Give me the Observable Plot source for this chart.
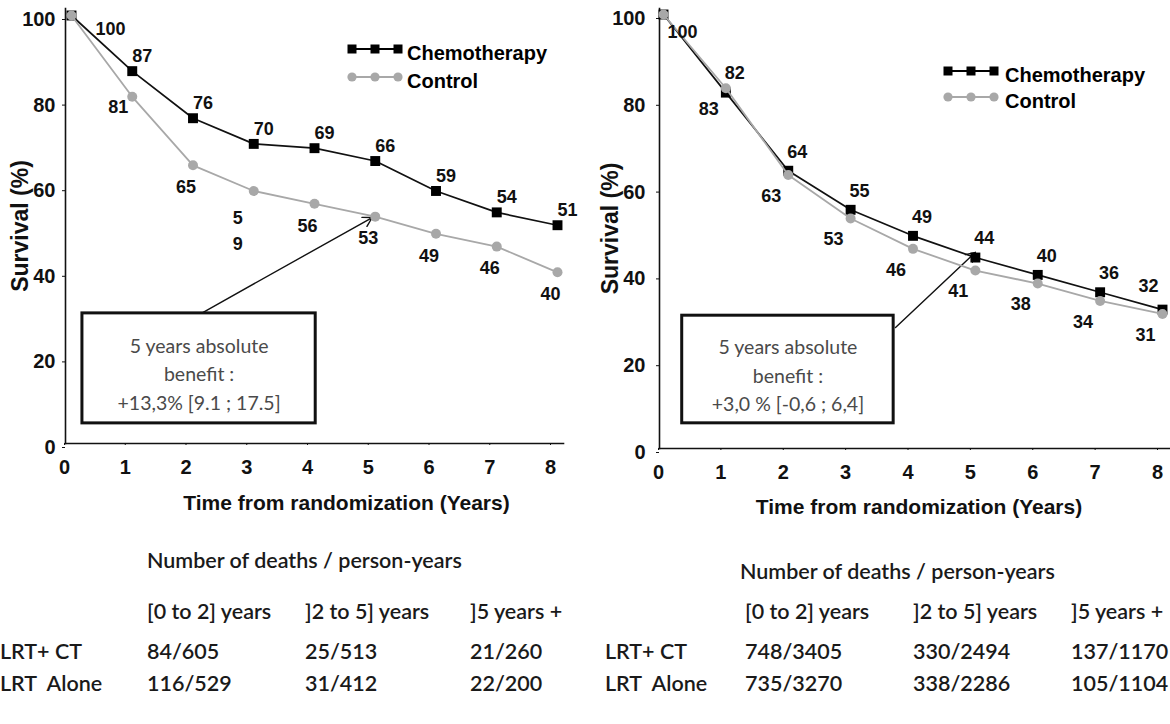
<!DOCTYPE html>
<html><head><meta charset="utf-8">
<script src="https://cdn.jsdelivr.net/npm/d3@7"></script>
<script src="https://cdn.jsdelivr.net/npm/@observablehq/plot@0.6"></script>
<style>
body{margin:0;background:#fff;}
#wrap{position:relative;width:1170px;height:724px;overflow:hidden;background:#fff;}
.panel{position:absolute;top:0;width:585px;height:530px;}
.lg{position:absolute;display:flex;align-items:center;height:20px;font:bold 20px "Liberation Sans",Arial,sans-serif;color:#000;white-space:nowrap;}
.lg span{position:relative;top:4px;}
.tb{position:absolute;font-family:Lato,sans-serif;font-size:21.5px;font-weight:600;color:#1a1a1a;white-space:pre;transform:translateY(-50%);line-height:1;}
</style></head><body><div id="wrap"></div>
<script>
// ---- data ----
const years = [0, 1, 2, 3, 4, 5, 6, 7, 8];
const yTicks = [0, 20, 40, 60, 80, 100];
const seriesNames = ["Chemotherapy", "Control"];

const leftChemo = [100, 87, 76, 70, 69, 66, 59, 54, 51];
const leftControl = [100, 81, 65, 59, 56, 53, 49, 46, 40];
const leftChemoLabels = ["100", "87", "76", "70", "69", "66", "59", "54", "51"];
const leftControlLabels = ["", "81", "65", "5\n9", "56", "53", "49", "46", "40"];
const leftBoxText = "5 years absolute\nbenefit :\n+13,3% [9.1 ; 17.5]";

const rightChemo = [100, 82, 64, 55, 49, 44, 40, 36, 32];
const rightControl = [100, 83, 63, 53, 46, 41, 38, 34, 31];
const rightChemoLabels = ["100", "82", "64", "55", "49", "44", "40", "36", "32"];
const rightControlLabels = ["", "83", "63", "53", "46", "41", "38", "34", "31"];
const rightBoxText = "5 years absolute\nbenefit :\n+3,0 % [-0,6 ; 6,4]";

const xTitle = "Time from randomization (Years)";
const yTitle = "Survival (%)";

const tableTitle = "Number of deaths / person-years";
const periods = ["[0 to 2] years", "]2 to 5] years", "]5 years +"];
const arms = ["LRT+ CT", "LRT  Alone"];
const leftDeaths = [["84/605", "25/513", "21/260"], ["116/529", "31/412", "22/200"]];
const rightDeaths = [["748/3405", "330/2494", "137/1170"], ["735/3270", "338/2286", "105/1104"]];

// ---- drawing ----
const FONT = '"Liberation Sans", Arial, sans-serif';
const GREY = "#a8a8a8";

function makePanel(cfg) {
  const chemo = years.map((t, i) => ({t, v: cfg.chemo[i], label: cfg.chemoLabels[i], i}));
  const ctrl = years.map((t, i) => ({t, v: cfg.control[i], label: cfg.controlLabels[i], i}));
  const sp = cfg.special;
  const labelMarks = [];
  labelMarks.push(Plot.text(chemo.filter(d => !(d.i in sp.chemo)), {x: "t", y: "v", text: "label", dx: cfg.chemoOff[0], dy: cfg.chemoOff[1], fontSize: 18}));
  for (const k in sp.chemo) labelMarks.push(Plot.text(chemo.filter(d => d.i == k), {x: "t", y: "v", text: "label", dx: sp.chemo[k][0], dy: sp.chemo[k][1], fontSize: 18}));
  labelMarks.push(Plot.text(ctrl.filter(d => d.label && !(d.i in sp.control)), {x: "t", y: "v", text: "label", dx: cfg.controlOff[0], dy: cfg.controlOff[1], fontSize: 18}));
  for (const k in sp.control) labelMarks.push(Plot.text(ctrl.filter(d => d.i == k), {x: "t", y: "v", text: "label", dx: sp.control[k][0], dy: sp.control[k][1], fontSize: 18, lineHeight: 1.45}));

  return Plot.plot({
    width: 585, height: 530,
    marginLeft: cfg.axisLeft, marginRight: cfg.marginRight, marginTop: 8, marginBottom: 530 - cfg.axisBottom,
    x: {domain: [0, 8], range: cfg.xRange},
    y: {domain: [0, 100], range: [cfg.axisBottom, cfg.y100]},
    style: {fontFamily: FONT, fontWeight: "bold", fontSize: "20px", color: "#111", background: "transparent", overflow: "visible"},
    marks: [
      Plot.frame({anchor: "left", stroke: "#111", strokeWidth: 1.6}),
      Plot.frame({anchor: "bottom", stroke: "#111", strokeWidth: 1.6}),
      Plot.axisY({ticks: yTicks, tickSize: 3, tickPadding: cfg.yPad, dy: 4, label: null, fontSize: 20}),
      Plot.axisX({ticks: years, tickSize: 2, tickPadding: 14, dx: cfg.xLabDx, label: null, fontSize: 20}),
      Plot.text([yTitle], {frameAnchor: "left", rotate: -90, dx: cfg.yTitleDx, textAnchor: "middle", lineAnchor: "middle", fontSize: 23, text: d => d}),
      Plot.text([xTitle], {frameAnchor: "bottom", dy: cfg.xTitleDy, dx: cfg.xTitleDx, textAnchor: "middle", lineAnchor: "middle", fontSize: 21, text: d => d}),
      Plot.arrow([cfg.arrow], {x1: "x1", y1: "y1", x2: "x2", y2: "y2", stroke: "#111", strokeWidth: 1.4, headLength: 11}),
      Plot.rect([cfg.box], {x1: "x1", x2: "x2", y1: "y1", y2: "y2", fill: "white", stroke: "#111", strokeWidth: 3}),
      Plot.text([cfg.box], {x: d => (d.x1 + d.x2) / 2, y: d => (d.y1 + d.y2) / 2, text: () => cfg.boxText, dy: 4,
        fontFamily: "Lato, sans-serif", fontWeight: "normal", fontSize: 19.5, fill: "#4a4a4a", lineHeight: 1.45}),
      Plot.line(chemo, {x: "t", y: "v", stroke: "#111", strokeWidth: 1.7}),
      Plot.dot(chemo, {x: "t", y: "v", symbol: "square", r: 5.6, fill: "#000", stroke: "none"}),
      Plot.line(ctrl, {x: "t", y: "v", stroke: GREY, strokeWidth: 1.8}),
      Plot.dot(ctrl, {x: "t", y: "v", symbol: "circle", r: 5, fill: GREY, stroke: "none"}),
      ...labelMarks
    ]
  });
}

const wrap = document.getElementById("wrap");

const panels = [
  {left: 0, chemo: leftChemo, control: leftControl, chemoLabels: leftChemoLabels, controlLabels: leftControlLabels,
   boxText: leftBoxText, axisLeft: 65, marginRight: 22, axisBottom: 443, y100: 15, xRange: [71, 557], yPad: 7, xLabDx: -7,
   yTitleDx: -45, xTitleDx: 32, xTitleDy: 60,
   chemoOff: [10, -15], controlOff: [-7, 22],
   special: {chemo: {0: [39, 14]}, control: {1: [-14, 8], 3: [-16, 38]}},
   arrow: {x1: 2.16, y1: 30.6, x2: 4.95, y2: 52.8},
   box: {x1: 0.18, x2: 4.02, y1: 4.7, y2: 30.4},
   legend: {x: 352, chemoY: 49, controlY: 77, textGap: 9}},
  {left: 585, chemo: rightChemo, control: rightControl, chemoLabels: rightChemoLabels, controlLabels: rightControlLabels,
   boxText: rightBoxText, axisLeft: 74, marginRight: 0, axisBottom: 448, y100: 14, xRange: [78, 577], yPad: 11, xLabDx: -5,
   yTitleDx: -49, xTitleDx: 4, xTitleDy: 59,
   chemoOff: [9, -19], controlOff: [-17, 21],
   special: {chemo: {0: [19, 18], 8: [-14, -23]}, control: {}},
   arrow: {x1: 3.72, y1: 27.9, x2: 5.0, y2: 45.2},
   box: {x1: 0.30, x2: 3.69, y1: 5.8, y2: 30.6},
   legend: {x: 948, chemoY: 71, controlY: 97, textGap: 11}}
];

for (const cfg of panels) {
  const div = document.createElement("div");
  div.className = "panel";
  div.style.left = cfg.left + "px";
  div.appendChild(makePanel(cfg));
  wrap.appendChild(div);

  seriesNames.forEach((name, k) => {
    const row = document.createElement("div");
    row.className = "lg";
    const y = k === 0 ? cfg.legend.chemoY : cfg.legend.controlY;
    row.style.left = (cfg.legend.x - 5) + "px";
    row.style.top = (y - 10) + "px";
    const color = k === 0 ? "#000" : GREY;
    const mk = [5, 28, 51].map(cx => k === 0
      ? `<rect x="${cx - 4.5}" y="5.5" width="9" height="9" fill="${color}"/>`
      : `<circle cx="${cx}" cy="10" r="4.6" fill="${color}"/>`).join("");
    row.innerHTML = `<svg width="56" height="20"><line x1="5" x2="51" y1="10" y2="10" stroke="${color}" stroke-width="2"/>${mk}</svg><span style="margin-left:${cfg.legend.textGap - 5}px">${name}</span>`;
    wrap.appendChild(row);
  });
}

function addText(txt, x, y, cls) {
  const d = document.createElement("div");
  d.className = cls;
  d.textContent = txt;
  d.style.left = x + "px";
  d.style.top = y + "px";
  wrap.appendChild(d);
}
const tables = [
  {deaths: leftDeaths, cols: [0, 147, 305, 470], titleX: 147, titleY: 561},
  {deaths: rightDeaths, cols: [605, 745, 913, 1071], titleX: 740, titleY: 572}
];
const rowY = [612, 652, 684];
for (const t of tables) {
  addText(tableTitle, t.titleX, t.titleY, "tb");
  periods.forEach((p, j) => addText(p, t.cols[j + 1], rowY[0], "tb"));
  arms.forEach((a, r) => {
    addText(a, t.cols[0], rowY[r + 1], "tb");
    t.deaths[r].forEach((v, j) => addText(v, t.cols[j + 1], rowY[r + 1], "tb"));
  });
}
</script></body></html>
